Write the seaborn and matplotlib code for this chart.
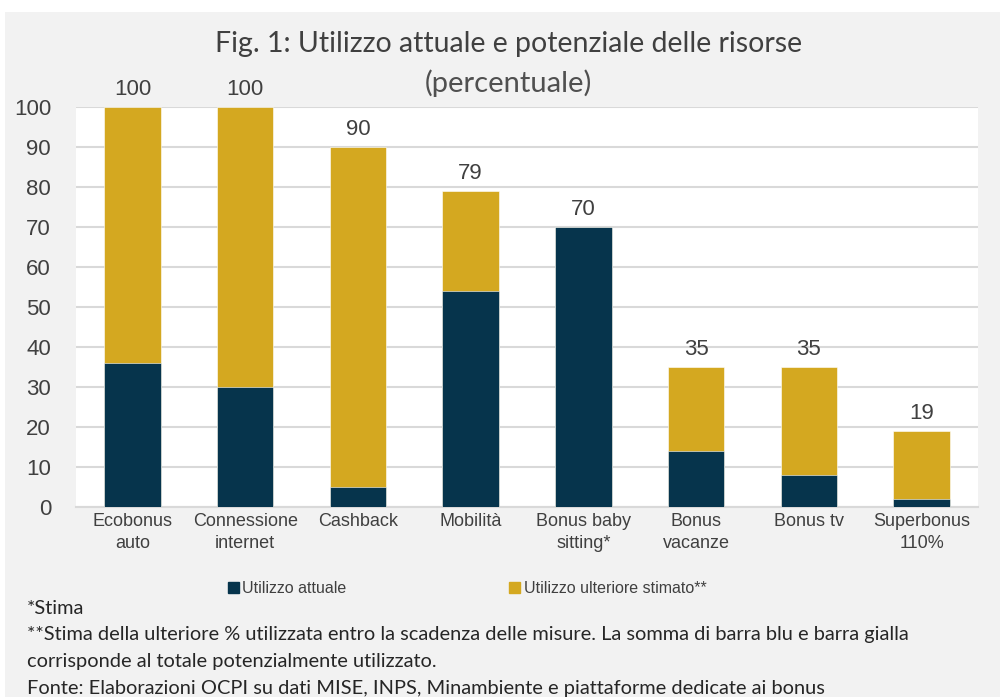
import pandas as pd
import matplotlib.pyplot as plt
import seaborn as sns
from matplotlib.patches import Rectangle

categories = ['Ecobonus\nauto', 'Connessione\ninternet', 'Cashback', 'Mobilità',
              'Bonus baby\nsitting*', 'Bonus\nvacanze', 'Bonus tv', 'Superbonus\n110%']
attuale = [36, 30, 5, 54, 70, 14, 8, 2]
totale = [100, 100, 90, 79, 70, 35, 35, 19]
yticks = [0, 10, 20, 30, 40, 50, 60, 70, 80, 90, 100]

navy = '#06344C'
gold = '#D4A820'
bg = '#F2F2F2'

df = pd.DataFrame({'cat': categories, 'attuale': attuale, 'totale': totale})

sns.set_style('white')
plt.rcParams['font.family'] = ['Liberation Sans', 'DejaVu Sans']

fig = plt.figure(figsize=(10, 6.97), dpi=100, facecolor='white')
fig.patches.append(Rectangle((0.005, 0), 0.995, 1 - 12 / 697, transform=fig.transFigure,
                             facecolor=bg, edgecolor='none', zorder=-10))
ax = fig.add_axes([0.076, 0.2726, 0.902, 0.574])
ax.set_facecolor('white')

# barre gialle = totale, barre blu sopra = utilizzo attuale
sns.barplot(data=df, x='cat', y='totale', color=gold, width=0.5, ax=ax,
            saturation=1, edgecolor='white', linewidth=0.4, zorder=3)
sns.barplot(data=df, x='cat', y='attuale', color=navy, width=0.5, ax=ax,
            saturation=1, edgecolor='white', linewidth=0.4, zorder=3)

for i, v in enumerate(totale):
    ax.annotate(str(v), (i, v), xytext=(0, 5), textcoords='offset points',
                ha='center', va='bottom', fontsize=16, color='#404040')

ax.set_ylim(0, 100)
ax.set_xlim(-0.5, len(categories) - 0.5)
ax.set_yticks(yticks)
ax.yaxis.grid(True, color='#D9D9D9', linewidth=1.5, zorder=0)
ax.set_axisbelow(True)
for s in ['top', 'right', 'left']:
    ax.spines[s].set_visible(False)
ax.spines['bottom'].set_color('#D9D9D9')
ax.spines['bottom'].set_linewidth(1.5)
ax.tick_params(axis='y', labelsize=16, labelcolor='#404040', length=0, pad=18)
ax.tick_params(axis='x', labelsize=13, labelcolor='#404040', length=0, pad=4)
ax.set_xlabel('')
ax.set_ylabel('')
for lab in ax.get_xticklabels():
    lab.set_linespacing(1.4)

fig.text(0.509, 0.937, 'Fig. 1: Utilizzo attuale e potenziale delle risorse',
         ha='center', va='center', fontsize=20.5, color='#404040',
         family=['Lato', 'DejaVu Sans'])
fig.text(0.508, 0.881, '(percentuale)', ha='center', va='center', fontsize=21,
         color='#505050', family=['Lato', 'DejaVu Sans'])

handles = [Rectangle((0, 0), 1, 1, color=navy), Rectangle((0, 0), 1, 1, color=gold)]
fig.legend(handles, ['Utilizzo attuale', 'Utilizzo ulteriore stimato**'],
           loc='center', bbox_to_anchor=(0.467, 0.156), ncol=2, frameon=False,
           fontsize=11.5, handlelength=0.7, handleheight=0.7, handletextpad=0.2,
           columnspacing=10.2, labelcolor='#404040')

notes = ['*Stima',
         '**Stima della ulteriore % utilizzata entro la scadenza delle misure. La somma di barra blu e barra gialla',
         'corrisponde al totale potenzialmente utilizzato.',
         'Fonte: Elaborazioni OCPI su dati MISE, INPS, Minambiente e piattaforme dedicate ai bonus']
for k, t in enumerate(notes):
    fig.text(0.027, 1 - (608 + 26.7 * k) / 697, t, ha='left', va='center', fontsize=14.4,
             color='#262626', family=['Lato', 'DejaVu Sans'])

fig.savefig('out.png', dpi=100, facecolor=fig.get_facecolor())
